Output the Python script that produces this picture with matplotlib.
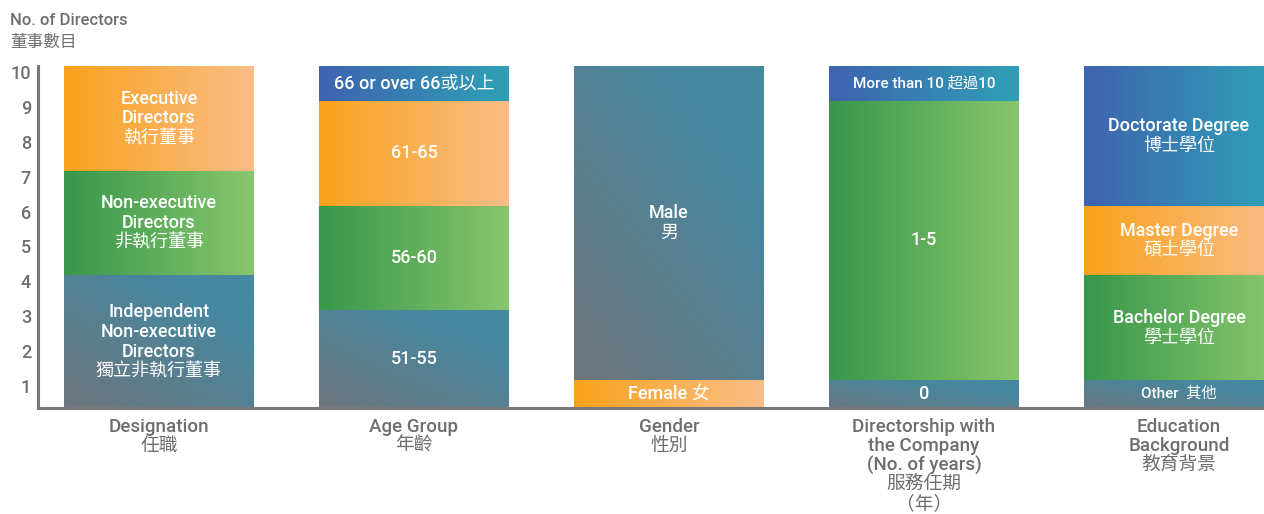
import numpy as np
import matplotlib.pyplot as plt
import matplotlib.transforms as mtransforms
from matplotlib.colors import to_rgb

plt.rcParams['font.family'] = ['Roboto', 'Noto Sans CJK TC']
plt.rcParams['font.weight'] = 'medium'

# Data (bottom to top in each bar)
categories = [
    "Designation\n任職",
    "Age Group\n年齡",
    "Gender\n性別",
    "Directorship with\nthe Company\n(No. of years)\n服務任期\n（年）",
    "Education\nBackground\n教育背景",
]

designation_values = [4, 3, 3]
designation_labels = ["Independent\nNon-executive\nDirectors\n獨立非執行董事",
                      "Non-executive\nDirectors\n非執行董事",
                      "Executive\nDirectors\n執行董事"]

age_values = [3, 3, 3, 1]
age_labels = ["51-55", "56-60", "61-65", "66 or over 66或以上"]

gender_values = [1, 9]
gender_labels = ["Female 女", "Male\n男"]

tenure_values = [1, 8, 1]
tenure_labels = ["0", "1-5", "More than 10 超過10"]

education_values = [1, 3, 2, 4]
education_labels = ["Other  其他", "Bachelor Degree\n學士學位",
                    "Master Degree\n碩士學位", "Doctorate Degree\n博士學位"]

y_ticks = [1, 2, 3, 4, 5, 6, 7, 8, 9, 10]

# gradient styles per segment
bar_styles = [
    ["slate", "green", "orange"],
    ["slate", "green", "orange", "blue"],
    ["orange", "slate"],
    ["slate", "green", "blue"],
    ["slate", "green", "orange", "blue"],
]
GRADIENTS = {
    "orange": ("#F8A21C", "#FBBD87"),
    "green": ("#38974A", "#87C66D"),
    "blue": ("#3F63B0", "#2FA0B6"),
    "slate": ("#6E747B", "#4688A0"),
}
small_labels = {"More than 10 超過10": 11, "Other  其他": 11}

TEXT_GREY = "#6d6e71"
AXIS_GREY = "#77787b"


def gradient_img(style, n=96):
    c0 = np.array(to_rgb(GRADIENTS[style][0]))
    c1 = np.array(to_rgb(GRADIENTS[style][1]))
    u = np.linspace(0, 1, n)
    uu, vv = np.meshgrid(u, u)
    if style == "slate":
        t = np.clip((uu + 1.2 * vv) / 1.7, 0, 1)
    else:
        t = uu
    return c0 + (c1 - c0) * t[..., None]


all_values = [designation_values, age_values, gender_values, tenure_values, education_values]
all_labels = [designation_labels, age_labels, gender_labels, tenure_labels, education_labels]

fig = plt.figure(figsize=(12.64, 5.14), dpi=100)
ax = fig.add_axes([38 / 1264, (514 - 408) / 514, (1264 - 38) / 1264, 342 / 514])

width = 190 / 255
for i, (vals, labels, styles) in enumerate(zip(all_values, all_labels, bar_styles)):
    bottom = 0
    for v, lab, st in zip(vals, labels, styles):
        top = bottom + v
        ax.imshow(gradient_img(st), extent=[i - width / 2, i + width / 2, bottom, top],
                  origin='lower', aspect='auto', interpolation='bilinear', zorder=2)
        ymid = (max(bottom, 0.2) + top) / 2
        ax.text(i, ymid, lab, ha='center', va='center', color='white',
                fontsize=small_labels.get(lab, 13), linespacing=1.12, zorder=3)
        bottom = top

ax.set_xlim(-(159 - 38) / 255, (1264 - 159) / 255)
ax.set_ylim(0.2, 10)

ax.spines['top'].set_visible(False)
ax.spines['right'].set_visible(False)
for s in ('left', 'bottom'):
    ax.spines[s].set_color(AXIS_GREY)
    ax.spines[s].set_linewidth(2.2)
    ax.spines[s].set_zorder(4)

ax.set_yticks(y_ticks)
ax.set_yticklabels([str(t) for t in y_ticks])
ax.tick_params(axis='y', length=0, pad=5, labelsize=13, labelcolor=TEXT_GREY)
offset = mtransforms.ScaledTranslation(0, -0.06, fig.dpi_scale_trans)
for lab in ax.get_yticklabels():
    lab.set_transform(lab.get_transform() + offset)

ax.set_xticks(range(len(categories)))
ax.set_xticklabels(categories, linespacing=1.08)
ax.tick_params(axis='x', length=0, pad=7, labelsize=13.5, labelcolor=TEXT_GREY)

fig.text(10 / 1264, 1 - 13 / 514, "No. of Directors\n董事數目", ha='left', va='top',
         fontsize=12, color=TEXT_GREY, linespacing=1.5)

fig.savefig("out.png", dpi=100)
